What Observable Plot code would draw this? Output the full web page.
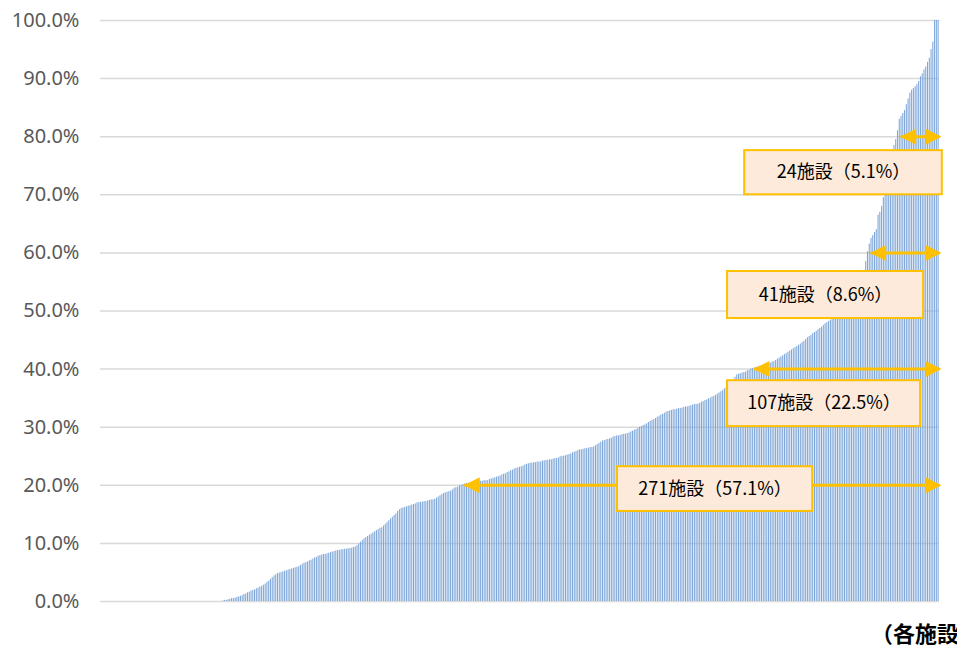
<!DOCTYPE html>
<html>
<head>
<meta charset="utf-8">
<script src="https://cdn.jsdelivr.net/npm/d3@7"></script>
<script src="https://cdn.jsdelivr.net/npm/@observablehq/plot@0.6"></script>
<style>
  html, body { margin: 0; padding: 0; background: #fff; }
  #wrap { position: relative; width: 957px; height: 649px; overflow: hidden; }
  #caption { position: absolute; left: 871px; top: 616px; white-space: nowrap;
    font-family: "Noto Sans CJK JP", sans-serif; font-weight: bold; font-size: 22px; color: #000; }
</style>
</head>
<body>
<div id="wrap"><div id="chart"></div><div id="caption">（各施設）</div></div>
<script>
// Share (%) per facility, sorted ascending (475 facilities)
const shares = [
  0,0,0,0,0,0,0,0,0,0,0,0,0,0,0,0,0,0,0,0,0,0,0,0,0,0,0,0,0,0,0,0,0,0,0,
  0,0,0,0,0,0,0,0,0,0,0,0,0,0,0,0,0,0,0,0,0,0,0,0,0,0,0,0,0,0,0,0,0,0,
  0.1,0.2,0.2,0.3,0.4,0.5,0.5,0.6,0.7,0.8,0.9,
  1.0,1.2,1.3,1.5,1.6,1.8,1.9,2.0,2.2,2.3,
  2.5,2.6,2.8,3.0,3.3,3.5,3.8,4.1,4.4,4.6,
  4.8,4.9,5.0,5.1,5.2,5.3,5.4,5.5,5.6,5.7,
  5.8,5.9,6.0,6.2,6.4,6.6,6.7,6.8,7.0,7.1,
  7.3,7.5,7.6,7.8,7.9,8.0,8.1,8.1,8.2,8.3,
  8.4,8.5,8.6,8.7,8.8,8.8,8.9,8.9,9.0,9.0,
  9.1,9.1,9.2,9.3,9.4,9.6,9.9,10.2,10.5,10.8,
  11.0,11.2,11.4,11.6,11.8,12.0,12.2,12.4,12.6,12.7,
  13.0,13.3,13.6,13.9,14.2,14.5,14.8,15.1,15.5,15.8,
  16.0,16.1,16.2,16.3,16.4,16.5,16.6,16.7,16.8,17.0,
  17.0,17.1,17.1,17.2,17.2,17.3,17.4,17.5,17.5,17.6,
  17.8,18.0,18.2,18.4,18.6,18.7,18.8,18.9,19.0,19.2,
  19.5,19.6,19.7,19.9,
  20.0,20.1,20.2,20.3,20.3,20.4,
  20.5,20.5,20.6,20.6,20.7,20.7,20.7,20.8,20.8,20.8,
  21.0,21.1,21.2,21.3,21.4,21.5,21.6,21.8,21.9,22.0,
  22.2,22.3,22.5,22.6,22.8,22.9,23.0,23.1,23.2,23.3,
  23.5,23.6,23.7,23.8,23.8,23.9,23.9,24.0,24.0,24.0,
  24.2,24.2,24.3,24.3,24.4,24.4,24.5,24.6,24.6,24.7,
  24.9,25.0,25.0,25.1,25.2,25.3,25.4,25.6,25.7,25.8,
  26.0,26.1,26.1,26.2,26.3,26.3,26.4,26.5,26.5,26.6,
  26.8,27.0,27.2,27.4,27.6,27.7,27.8,27.9,28.0,28.1,
  28.3,28.4,28.5,28.5,28.6,28.7,28.8,28.8,28.9,29.0,
  29.2,29.3,29.5,29.6,29.8,30.0,30.1,30.3,30.4,30.6,
  30.8,31.0,31.2,31.3,31.5,31.7,31.9,32.1,32.2,32.4,
  32.6,32.7,32.8,32.9,33.0,33.0,33.1,33.2,33.2,33.3,
  33.4,33.5,33.5,33.6,33.7,33.8,33.9,33.9,34.0,34.1,
  34.3,34.4,34.6,34.7,34.9,35.0,35.2,35.3,35.5,35.7,
  35.9,36.1,36.3,36.6,36.8,37.1,37.5,37.9,38.2,38.6,
  39.0,39.1,39.2,39.3,39.4,39.5,39.7,39.8,
  40.0,40.1,40.2,40.3,40.4,40.5,40.6,40.7,40.8,40.9,40.9,41.0,
  41.2,41.3,41.5,41.7,41.9,42.1,42.3,42.5,42.7,42.9,
  43.1,43.3,43.5,43.7,43.9,44.1,44.3,44.6,44.8,45.1,
  45.4,45.6,45.8,46.1,46.3,46.5,46.8,47.0,47.2,47.5,
  47.8,48.0,48.2,48.4,48.6,48.8,48.9,49.0,49.1,49.2,
  49.3,49.4,49.5,49.6,49.7,49.8,49.9,50.0,50.2,50.5,
  52.0,55.0,57.0,58.5,
  60.2,61.5,62.5,63.0,63.5,64.0,66.5,
  67.0,68.0,69.5,71.0,72.5,74.0,75.5,77.0,78.5,
  79.5,
  81.0,83.0,83.5,84.0,84.5,85.5,86.5,87.5,88.0,
  88.3,88.6,89.0,89.5,90.3,90.8,91.5,92.0,92.8,93.5,
  95.0,96.3,100,100,100
];
// Thresholds annotated with arrows (%)
const thresholds = [80, 60, 40, 20];
// Y-axis ticks (%)
const yTicks = [0,10,20,30,40,50,60,70,80,90,100];

// Annotation box layout (data units: facility index, %)
const boxLayout = [
  {x1: 364.7, x2: 476.6, y1: 70.0, y2: 77.6},
  {x1: 355.0, x2: 466.0, y1: 48.7, y2: 56.8},
  {x1: 355.0, x2: 464.3, y1: 30.1, y2: 38.0},
  {x1: 292.7, x2: 403.2, y1: 15.5, y2: 23.2}
];

const n = shares.length;
const bars = shares.map((v, i) => ({i, v}));
const notes = thresholds.map((t, k) => {
  const count = shares.filter(v => v >= t).length;
  const start = n - count;
  const b = boxLayout[k];
  return {
    t, count, start, end: n,
    label: `${count}施設（${(count / n * 100).toFixed(1)}%）`,
    ...b, cx: (b.x1 + b.x2) / 2, cy: (b.y1 + b.y2) / 2
  };
});

const rightHead = {draw(ctx) { ctx.moveTo(2, 0); ctx.lineTo(-14, -8); ctx.lineTo(-14, 8); ctx.closePath(); }};
const leftHead = {draw(ctx) { ctx.moveTo(3, 0); ctx.lineTo(19, -8); ctx.lineTo(19, 8); ctx.closePath(); }};

const orange = "#ffc000";

const chart = Plot.plot({
  width: 957,
  height: 649,
  marginTop: 20,
  marginBottom: 48,
  marginLeft: 100,
  marginRight: 18,
  style: {background: "#fff", overflow: "visible"},
  x: {type: "linear", domain: [0, n], axis: null},
  y: {domain: [0, 100], axis: null},
  marks: [
    Plot.ruleY(yTicks, {stroke: "#d9d9d9", strokeWidth: 1.5}),
    Plot.rectY(bars, {x1: d => d.i + 0.2, x2: d => d.i + 0.8, y: "v", fill: "#7ea6d8"}),
    Plot.axisY(yTicks, {
      tickSize: 0, tickPadding: 21,
      tickFormat: d => d.toFixed(1) + "%",
      fontSize: 20, fill: "#595959",
      fontFamily: "Noto Sans, sans-serif"
    }),
    Plot.link(notes, {x1: d => d.start + 2, x2: "end", y1: "t", y2: "t", stroke: orange, strokeWidth: 3}),
    Plot.dot(notes, {x: "start", y: "t", symbol: leftHead, fill: orange, stroke: null, r: 8}),
    Plot.dot(notes, {x: "end", y: "t", symbol: rightHead, fill: orange, stroke: null, r: 8}),
    Plot.rect(notes, {x1: "x1", x2: "x2", y1: "y1", y2: "y2", fill: "#fdeada", stroke: orange, strokeWidth: 2}),
    Plot.text(notes, {x: "cx", y: "cy", text: "label", fontSize: 18, fill: "#000",
      fontFamily: "Noto Sans CJK JP, sans-serif"})
  ]
});
document.getElementById("chart").appendChild(chart);
</script>
</body>
</html>
